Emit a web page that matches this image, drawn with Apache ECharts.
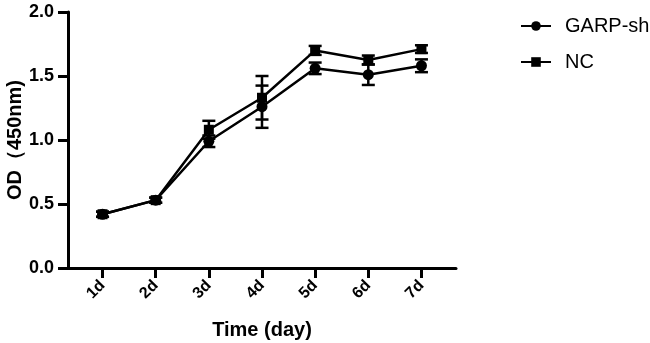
<!DOCTYPE html>
<html>
<head>
<meta charset="utf-8">
<script src="https://cdn.jsdelivr.net/npm/echarts@6/dist/echarts.min.js"></script>
<style>
  html, body { margin: 0; padding: 0; background: #fff; }
  #chart { width: 650px; height: 343px; }
</style>
</head>
<body>
<div id="chart"></div>
<script>
// categories on the x axis
const days = ["1d", "2d", "3d", "4d", "5d", "6d", "7d"];
const dayPos = [1, 2, 3, 4, 5, 6, 7];
const yTicks = [0, 0.5, 1.0, 1.5, 2.0];

// means and error (SD)
const garpMean = [0.42, 0.53, 0.99, 1.26, 1.56, 1.51, 1.58];
const garpErr = [0.02, 0.02, 0.045, 0.165, 0.045, 0.08, 0.05];
const ncMean = [0.42, 0.53, 1.08, 1.33, 1.70, 1.625, 1.71];
const ncErr = [0.02, 0.02, 0.07, 0.17, 0.035, 0.035, 0.03];

const font = "'Liberation Sans', Arial, sans-serif";

function pairs(mean) {
  return mean.map((v, i) => [dayPos[i], v]);
}
function errData(mean, err) {
  return mean.map((v, i) => [dayPos[i], v - err[i], v + err[i]]);
}

// error bar with caps
function errorBar(params, api) {
  const x = api.value(0);
  const lo = api.coord([x, api.value(1)]);
  const hi = api.coord([x, api.value(2)]);
  const hw = 6.5;
  const style = { stroke: "#000", lineWidth: 2.5 };
  return {
    type: "group",
    children: [
      { type: "line", shape: { x1: lo[0], y1: lo[1], x2: hi[0], y2: hi[1] }, style },
      { type: "line", shape: { x1: hi[0] - hw, y1: hi[1], x2: hi[0] + hw, y2: hi[1] }, style },
      { type: "line", shape: { x1: lo[0] - hw, y1: lo[1], x2: lo[0] + hw, y2: lo[1] }, style },
    ],
  };
}

const chart = echarts.init(document.getElementById("chart"), null, { renderer: "canvas" });

const option = {
  animation: false,
  backgroundColor: "#fff",
  textStyle: { fontFamily: font },
  grid: { left: 68, right: 194, top: 12, bottom: 75, containLabel: false, outerBoundsMode: "none" },
  legend: {
    orient: "vertical",
    left: 515,
    top: 11,
    itemWidth: 30,
    itemHeight: 12,
    itemGap: 16,
    data: ["GARP-sh", "NC"],
    textStyle: { fontSize: 20, lineHeight: 20, color: "#000", fontFamily: font, padding: [0, 0, 0, 9] },
  },
  xAxis: {
    type: "value",
    min: 0.35,
    max: 7.65,
    name: "Time (day)",
    nameLocation: "middle",
    nameGap: 52,
    nameMoveOverlap: false,
    nameTextStyle: { fontSize: 20, fontWeight: "bold", color: "#000", fontFamily: font },
    splitLine: { show: false },
    axisLine: { lineStyle: { color: "#000", width: 3 } },
    axisTick: { customValues: dayPos, length: 10, lineStyle: { color: "#000", width: 3 } },
    axisLabel: {
      customValues: dayPos,
      formatter: (v) => days[dayPos.indexOf(v)],
      rotate: 45,
      margin: 15,
      fontSize: 16,
      fontWeight: "bold",
      color: "#000",
      fontFamily: font,
    },
  },
  yAxis: {
    type: "value",
    min: 0,
    max: 2,
    interval: 0.5,
    name: "OD（450nm)",
    nameLocation: "middle",
    nameGap: 43,
    nameMoveOverlap: false,
    nameTextStyle: { fontSize: 20, fontWeight: "bold", color: "#000", fontFamily: font },
    splitLine: { show: false },
    axisLine: { show: true, lineStyle: { color: "#000", width: 3 } },
    axisTick: { show: true, length: 10, lineStyle: { color: "#000", width: 3 } },
    axisLabel: {
      customValues: yTicks,
      formatter: (v) => v.toFixed(1),
      margin: 14,
      fontSize: 18,
      fontWeight: "bold",
      color: "#000",
      fontFamily: font,
    },
  },
  series: [
    {
      type: "custom",
      renderItem: errorBar,
      data: errData(garpMean, garpErr),
      encode: { x: 0, y: [1, 2] },
      z: 1,
    },
    {
      type: "custom",
      renderItem: errorBar,
      data: errData(ncMean, ncErr),
      encode: { x: 0, y: [1, 2] },
      z: 1,
    },
    {
      name: "GARP-sh",
      type: "line",
      data: pairs(garpMean),
      symbol: "circle",
      symbolSize: 11,
      color: "#000",
      lineStyle: { color: "#000", width: 2.5 },
      itemStyle: { color: "#000" },
      z: 3,
    },
    {
      name: "NC",
      type: "line",
      data: pairs(ncMean),
      symbol: "rect",
      symbolSize: 10,
      color: "#000",
      lineStyle: { color: "#000", width: 2.5 },
      itemStyle: { color: "#000" },
      z: 3,
    },
  ],
};

chart.setOption(option);
</script>
</body>
</html>
